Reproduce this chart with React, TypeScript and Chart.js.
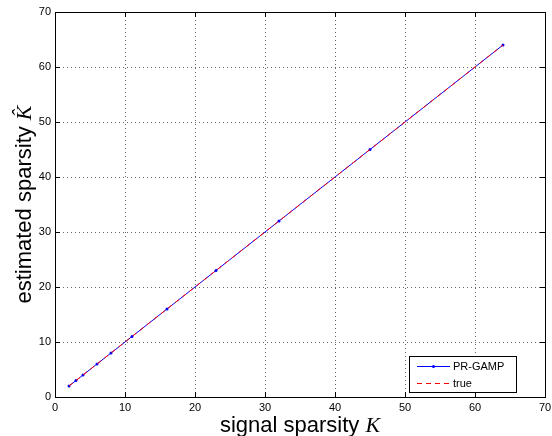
import { useEffect, useRef } from 'react';
import { Chart, registerables } from 'chart.js';

Chart.register(...registerables);

const sparsityK = [2, 3, 4, 6, 8, 11, 16, 23, 32, 45, 64];
const estimatedK = [2, 3, 4, 6, 8, 11, 16, 23, 32, 45, 64];
const trueK = [2, 3, 4, 6, 8, 11, 16, 23, 32, 45, 64];
const xTickValues = [0, 10, 20, 30, 40, 50, 60, 70];
const yTickValues = [0, 10, 20, 30, 40, 50, 60, 70];
const seriesLabels = ['PR-GAMP', 'true'];
const seriesColors = ['#0000ff', '#ff0000'];

const W = 552;
const H = 436;

const overlayPlugin = {
  id: 'overlay',
  afterDraw(chart: any) {
    const ctx = chart.ctx;
    const a = chart.chartArea;
    const xs = chart.scales.x;
    const ys = chart.scales.y;
    ctx.save();
    ctx.strokeStyle = '#000';
    ctx.lineWidth = 1;
    ctx.setLineDash([]);
    // inward ticks
    const tl = 5;
    ctx.beginPath();
    xTickValues.forEach((v) => {
      const px = Math.round(xs.getPixelForValue(v)) + 0.5;
      ctx.moveTo(px, a.bottom);
      ctx.lineTo(px, a.bottom - tl);
      ctx.moveTo(px, a.top);
      ctx.lineTo(px, a.top + tl);
    });
    yTickValues.forEach((v) => {
      const py = Math.round(ys.getPixelForValue(v)) + 0.5;
      ctx.moveTo(a.left, py);
      ctx.lineTo(a.left + tl, py);
      ctx.moveTo(a.right, py);
      ctx.lineTo(a.right - tl, py);
    });
    ctx.stroke();
    // box
    ctx.strokeRect(
      Math.round(a.left) + 0.5,
      Math.round(a.top) + 0.5,
      Math.round(a.right - a.left),
      Math.round(a.bottom - a.top)
    );

    // legend
    const lx = 409, ly = 356, lw = 107, lh = 36;
    ctx.fillStyle = '#fff';
    ctx.fillRect(lx, ly, lw, lh);
    ctx.strokeStyle = '#000';
    ctx.strokeRect(lx + 0.5, ly + 0.5, lw, lh);
    const rows = [366, 383];
    seriesLabels.forEach((label, i) => {
      const y = rows[i] + 0.5;
      ctx.strokeStyle = seriesColors[i];
      ctx.lineWidth = 1;
      ctx.setLineDash(i === 1 ? [5, 4] : []);
      ctx.beginPath();
      ctx.moveTo(417, y);
      ctx.lineTo(450, y);
      ctx.stroke();
      ctx.setLineDash([]);
      if (i === 0) {
        ctx.fillStyle = seriesColors[i];
        ctx.beginPath();
        ctx.arc(433.5, y, 1.5, 0, Math.PI * 2);
        ctx.fill();
      }
      ctx.fillStyle = '#000';
      ctx.font = '11px "Liberation Sans", Arial, sans-serif';
      ctx.textBaseline = 'middle';
      ctx.textAlign = 'left';
      ctx.fillText(label, 453, rows[i] + 0.5);
    });

    // axis titles
    const sans = '22px "Liberation Sans", Arial, sans-serif';
    const ital = 'italic 22px "Liberation Serif", "DejaVu Serif", serif';
    ctx.fillStyle = '#000';
    ctx.textBaseline = 'alphabetic';
    ctx.textAlign = 'left';
    {
      const t1 = 'signal sparsity ';
      const t2 = 'K';
      ctx.font = sans;
      const w1 = ctx.measureText(t1).width;
      ctx.font = ital;
      const w2 = ctx.measureText(t2).width;
      const cx = (a.left + a.right) / 2;
      const x0 = cx - (w1 + w2) / 2;
      ctx.font = sans;
      ctx.fillText(t1, x0, 432);
      ctx.font = ital;
      ctx.fillText(t2, x0 + w1, 432);
    }
    {
      const t1 = 'estimated sparsity ';
      const t2 = 'K\u0302';
      ctx.font = sans;
      const w1 = ctx.measureText(t1).width;
      ctx.font = ital;
      const w2 = ctx.measureText(t2).width;
      const cy = (a.top + a.bottom) / 2;
      ctx.translate(31, cy);
      ctx.rotate(-Math.PI / 2);
      const x0 = -(w1 + w2) / 2;
      ctx.font = sans;
      ctx.fillText(t1, x0, 0);
      ctx.font = ital;
      ctx.fillText(t2, x0 + w1, 0);
    }
    ctx.restore();
  },
};

export default function App() {
  const ref = useRef<HTMLCanvasElement>(null);
  useEffect(() => {
    if (!ref.current) return;
    const gridCommon = {
      color: 'rgba(0,0,0,0.6)',
      lineWidth: 1,
      drawTicks: false,
    };
    const chart = new Chart(ref.current, {
      type: 'line',
      data: {
        datasets: [
          {
            label: seriesLabels[0],
            data: sparsityK.map((k, i) => ({ x: k, y: estimatedK[i] })),
            borderColor: seriesColors[0],
            backgroundColor: seriesColors[0],
            pointBackgroundColor: seriesColors[0],
            pointBorderColor: seriesColors[0],
            pointRadius: 1.5,
            pointBorderWidth: 0,
            borderWidth: 1,
            tension: 0,
            fill: false,
            order: 2,
          },
          {
            label: seriesLabels[1],
            data: sparsityK.map((k, i) => ({ x: k, y: trueK[i] })),
            borderColor: seriesColors[1],
            backgroundColor: seriesColors[1],
            borderDash: [5, 4],
            pointRadius: 0,
            borderWidth: 1,
            tension: 0,
            fill: false,
            order: 1,
          },
        ],
      },
      options: {
        responsive: false,
        animation: false,
        layout: { padding: { left: 0, right: 7, top: 12, bottom: 0 } },
        plugins: {
          legend: { display: false },
          tooltip: { enabled: false },
        },
        scales: {
          x: {
            type: 'linear',
            min: 0,
            max: 70,
            afterFit: (s: any) => {
              s.height = 39;
              s.paddingLeft = 0;
              s.paddingRight = 0;
            },
            afterBuildTicks: (s: any) => {
              s.ticks = xTickValues.map((v) => ({ value: v }));
            },
            grid: gridCommon,
            border: { display: false, dash: [1, 3] },
            ticks: {
              color: '#000',
              padding: 4,
              maxRotation: 0,
              font: { family: '"Liberation Sans", Arial, sans-serif', size: 11 },
            },
          },
          y: {
            type: 'linear',
            min: 0,
            max: 70,
            afterFit: (s: any) => {
              s.width = 55;
              s.paddingTop = 0;
              s.paddingBottom = 0;
            },
            afterBuildTicks: (s: any) => {
              s.ticks = yTickValues.map((v) => ({ value: v }));
            },
            grid: gridCommon,
            border: { display: false, dash: [1, 3] },
            ticks: {
              color: '#000',
              padding: 4,
              font: { family: '"Liberation Sans", Arial, sans-serif', size: 11 },
            },
          },
        },
      },
      plugins: [overlayPlugin],
    } as any);
    return () => chart.destroy();
  }, []);
  return (
    <div style={{ position: 'fixed', left: 0, top: 0, width: W, height: H, background: '#fff' }}>
      <canvas ref={ref} width={W} height={H} style={{ display: 'block' }} />
    </div>
  );
}
